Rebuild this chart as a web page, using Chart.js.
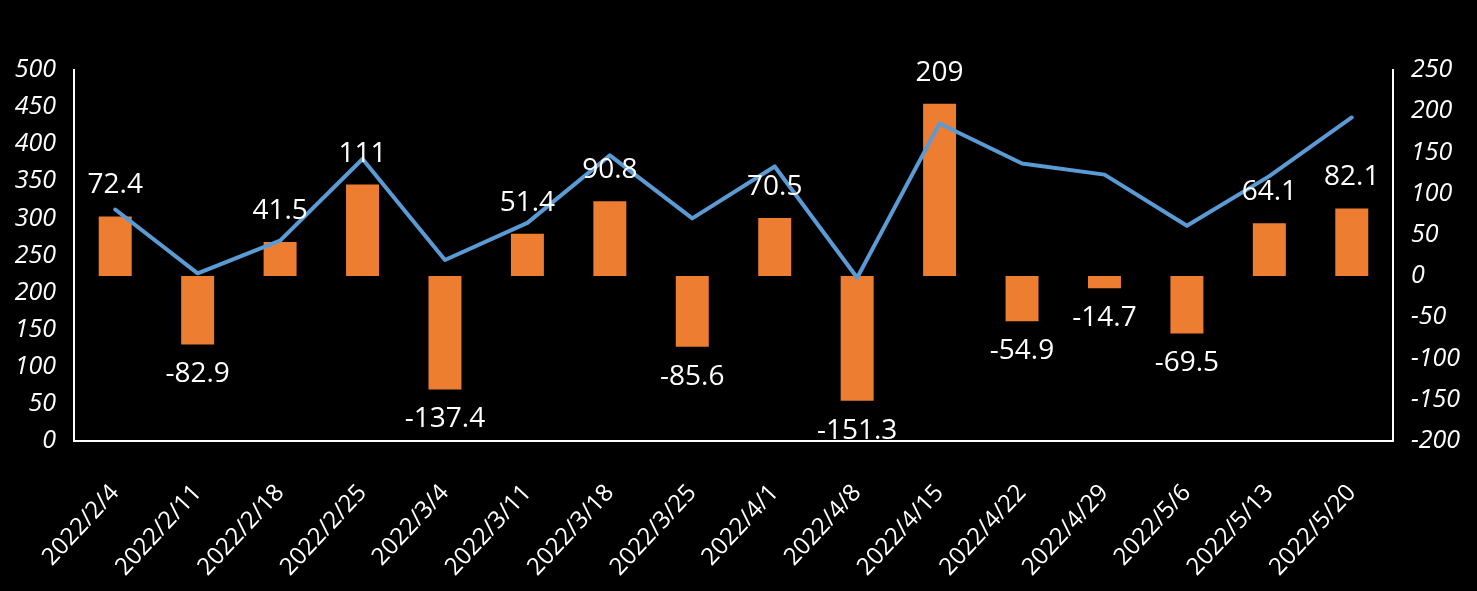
<!DOCTYPE html>
<html>
<head>
<meta charset="utf-8">
<script src="https://cdn.jsdelivr.net/npm/chart.js@4"></script>
<style>
  html, body { margin: 0; padding: 0; background: #000; }
  canvas { display: block; }
</style>
</head>
<body>
<canvas id="chart" width="1477" height="591"></canvas>
<script>
// weekly dates on the x axis
const labels = ['2022/2/4', '2022/2/11', '2022/2/18', '2022/2/25', '2022/3/4', '2022/3/11', '2022/3/18', '2022/3/25',
  '2022/4/1', '2022/4/8', '2022/4/15', '2022/4/22', '2022/4/29', '2022/5/6', '2022/5/13', '2022/5/20'];

// orange bars (right axis), values from the data labels
const barValues = [72.4, -82.9, 41.5, 111, -137.4, 51.4, 90.8, -85.6, 70.5, -151.3, 209, -54.9, -14.7, -69.5, 64.1, 82.1];

// blue line (left axis)
const lineValues = [312, 226, 270, 380, 244, 294, 385, 300, 370, 220, 428, 374, 359, 290, 357, 436];

// axis ranges
const leftMin = 0, leftMax = 500, leftStep = 50;
const rightMin = -200, rightMax = 250, rightStep = 50;

// draws the value above / below each bar
const barLabels = {
  id: 'barLabels',
  afterDatasetsDraw(chart) {
    const ctx = chart.ctx;
    const meta = chart.getDatasetMeta(1);
    ctx.save();
    ctx.font = '28px "Open Sans"';
    ctx.fillStyle = '#ffffff';
    ctx.textAlign = 'center';
    ctx.textBaseline = 'middle';
    meta.data.forEach((bar, i) => {
      const v = barValues[i];
      const y = v >= 0 ? bar.y - 31 : bar.y + 30;
      ctx.fillText(String(v), bar.x, y);
    });
    ctx.restore();
  }
};

new Chart(document.getElementById('chart'), {
  type: 'bar',
  data: {
    labels: labels,
    datasets: [
      {
        type: 'line',
        data: lineValues,
        yAxisID: 'y',
        borderColor: '#5B9BD5',
        borderWidth: 4,
        pointRadius: 0,
        tension: 0,
        borderCapStyle: 'round',
        borderJoinStyle: 'round',
        order: 0
      },
      {
        type: 'bar',
        data: barValues,
        yAxisID: 'y1',
        backgroundColor: '#ED7D31',
        barPercentage: 0.8,
        categoryPercentage: 0.5,
        order: 1
      }
    ]
  },
  options: {
    responsive: false,
    animation: false,
    layout: { padding: { top: 70, left: 0, right: 0, bottom: 0 } },
    plugins: {
      legend: { display: false },
      tooltip: { enabled: false }
    },
    scales: {
      x: {
        offset: true,
        grid: { display: false, drawTicks: false },
        border: { display: true, color: '#ffffff', width: 2 },
        ticks: {
          color: '#ffffff',
          font: { family: 'Open Sans', size: 24 },
          minRotation: 47,
          maxRotation: 47,
          autoSkip: false,
          padding: 38
        },
        afterFit(scale) { scale.height = 150; }
      },
      y: {
        position: 'left',
        min: leftMin,
        max: leftMax,
        grid: { display: false, drawTicks: false },
        border: { display: true, color: '#ffffff', width: 2 },
        ticks: {
          stepSize: leftStep,
          color: '#ffffff',
          font: { family: 'Open Sans', size: 25, style: 'italic' },
          padding: 18
        },
        afterFit(scale) { scale.width = 74; }
      },
      y1: {
        position: 'right',
        min: rightMin,
        max: rightMax,
        grid: { display: false, drawTicks: false },
        border: { display: true, color: '#ffffff', width: 2 },
        ticks: {
          stepSize: rightStep,
          color: '#ffffff',
          font: { family: 'Open Sans', size: 25, style: 'italic' },
          padding: 18
        },
        afterFit(scale) { scale.width = 84; }
      }
    }
  },
  plugins: [barLabels]
});
</script>
</body>
</html>
